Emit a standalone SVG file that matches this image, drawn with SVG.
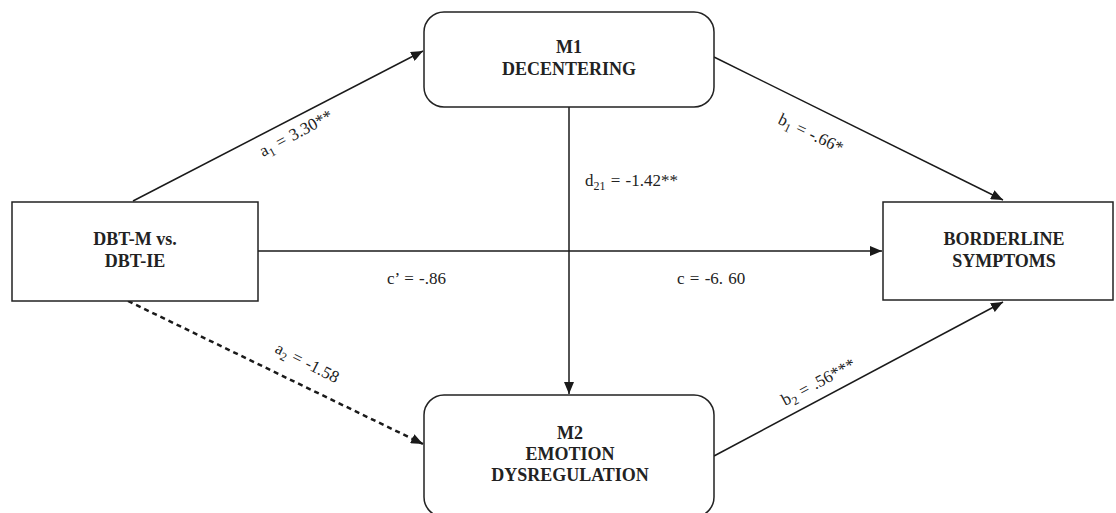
<svg xmlns="http://www.w3.org/2000/svg" width="1116" height="513" viewBox="0 0 1116 513">
<style>
.box{fill:#fff;stroke:#222;stroke-width:1.5}
.nt{font-family:"Liberation Serif","Times New Roman",serif;font-weight:bold;font-size:18px;fill:#222;text-anchor:middle}
.lb{font-family:"Liberation Serif","Times New Roman",serif;font-size:17px;fill:#222;word-spacing:1px}
.sb{font-size:12px}
.ln{fill:none;stroke:#1a1a1a;stroke-width:1.5}
.dash{fill:none;stroke:#1a1a1a;stroke-width:2.5;stroke-dasharray:5 4}
</style>
<defs>
<marker id="ah" markerUnits="userSpaceOnUse" markerWidth="14" markerHeight="10" refX="12" refY="5" orient="auto">
<path d="M0,0 L12,5 L0,10 Z" fill="#1a1a1a"/>
</marker>
</defs>
<rect width="1116" height="513" fill="#fff"/>
<g id="connectors">
<line class="ln" x1="133" y1="201" x2="423" y2="51" marker-end="url(#ah)"/>
<line class="ln" x1="714" y1="57" x2="1003" y2="200" marker-end="url(#ah)"/>
<line class="ln" x1="258" y1="251" x2="882" y2="251" marker-end="url(#ah)"/>
<line class="ln" x1="569" y1="107" x2="569" y2="394" marker-end="url(#ah)"/>
<line class="dash" x1="128" y1="301" x2="423" y2="444" marker-end="url(#ah)"/>
<line class="ln" x1="714" y1="456" x2="1003" y2="302" marker-end="url(#ah)"/>
</g>
<g id="labels">
<text class="lb" transform="translate(263,157) rotate(-28)">a<tspan class="sb" dy="4">1</tspan><tspan dy="-4"> = 3.30**</tspan></text>
<text class="lb" transform="translate(777,123) rotate(26)">b<tspan class="sb" dy="4">1</tspan><tspan dy="-4"> = -.66*</tspan></text>
<text class="lb" x="585" y="186">d<tspan class="sb" dy="4">21</tspan><tspan dy="-4"> = -1.42**</tspan></text>
<text class="lb" x="387" y="284">c’ = -.86</text>
<text class="lb" x="677" y="284">c = -6. 60</text>
<text class="lb" transform="translate(274,352) rotate(27)">a<tspan class="sb" dy="4">2</tspan><tspan dy="-4"> = -1.58</tspan></text>
<text class="lb" transform="translate(785,406) rotate(-28)">b<tspan class="sb" dy="4">2</tspan><tspan dy="-4"> = .56***</tspan></text>
</g>
<g id="m1">
<rect class="box" x="424" y="12" width="290" height="95" rx="20"/>
<text class="nt" x="569" y="53">M1</text>
<text class="nt" x="569" y="75">DECENTERING</text>
</g>
<g id="x">
<rect class="box" x="12" y="202" width="246" height="99"/>
<text class="nt" x="135" y="245">DBT-M vs.</text>
<text class="nt" x="135" y="267">DBT-IE</text>
</g>
<g id="y">
<rect class="box" x="883" y="202" width="230" height="98"/>
<text class="nt" x="1004" y="245">BORDERLINE</text>
<text class="nt" x="1004" y="267">SYMPTOMS</text>
</g>
<g id="m2">
<rect class="box" x="424" y="395" width="290" height="122" rx="20"/>
<text class="nt" x="570" y="439">M2</text>
<text class="nt" x="570" y="460">EMOTION</text>
<text class="nt" x="570" y="481">DYSREGULATION</text>
</g>
</svg>
